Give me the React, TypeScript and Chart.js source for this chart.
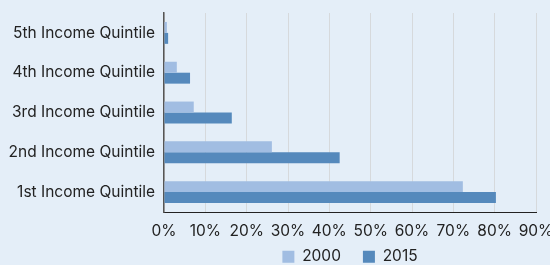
import React, { useEffect, useRef } from "react";
import { Chart, registerables } from "chart.js";

Chart.register(...registerables);

const categories = [
  "5th Income Quintile",
  "4th Income Quintile",
  "3rd Income Quintile",
  "2nd Income Quintile",
  "1st Income Quintile",
];
const values2000 = [0.7, 3.1, 7.2, 26.1, 72.3];
const values2015 = [1.0, 6.3, 16.4, 42.5, 80.3];
const seriesLabels = ["2000", "2015"];

const legendShift = {
  id: "legendShift",
  afterUpdate(chart: any) {
    const lg = chart.legend;
    if (lg) {
      lg.top -= 15;
    }
  },
};

export default function App() {
  const ref = useRef<HTMLCanvasElement | null>(null);
  useEffect(() => {
    document.body.style.margin = "0";
    const ctx = ref.current!;
    const font = "Inter, 'Noto Sans', sans-serif";
    const chart = new Chart(ctx, {
      type: "bar",
      data: {
        labels: categories,
        datasets: [
          {
            label: seriesLabels[0],
            data: values2000,
            backgroundColor: "#a1bde2",
            categoryPercentage: 0.55,
            barPercentage: 1,
          },
          {
            label: seriesLabels[1],
            data: values2015,
            backgroundColor: "#5589bc",
            categoryPercentage: 0.55,
            barPercentage: 1,
          },
        ],
      },
      plugins: [legendShift],
      options: {
        indexAxis: "y",
        animation: false,
        responsive: false,
        layout: { padding: { top: 13, right: 0, left: 0, bottom: 0 } },
        plugins: {
          tooltip: { enabled: false },
          legend: {
            position: "bottom",
            fullSize: false,
            maxHeight: 23,
            labels: {
              boxWidth: 12,
              boxHeight: 12,
              padding: 22,
              color: "#222",
              font: { family: font, size: 15.5 },
            },
          },
        },
        scales: {
          x: {
            min: 0,
            max: 90,
            afterFit: (s: any) => {
              s.height = 30;
              s.paddingRight = 14;
              s.paddingLeft = 0;
            },
            ticks: {
              stepSize: 10,
              maxRotation: 0,
              minRotation: 0,
              autoSkip: false,
              callback: (v: any) => v + "%",
              color: "#222",
              font: { family: font, size: 15.5 },
              padding: 10,
            },
            grid: { color: "#d6d9dc", lineWidth: 1, drawTicks: false },
            border: { color: "#222", width: 1 },
          },
          y: {
            afterFit: (s: any) => {
              s.width = 164;
              s.paddingTop = 0;
              s.paddingBottom = 0;
            },
            ticks: {
              color: "#222",
              font: { family: font, size: 15.5 },
              padding: 9,
            },
            grid: { display: false, drawTicks: false },
            border: { color: "#555", width: 1.5 },
          },
        },
      },
    });
    return () => chart.destroy();
  }, []);
  return (
    <div style={{ width: 550, height: 265, background: "#e4eef8" }}>
      <canvas ref={ref} width={550} height={265} />
    </div>
  );
}
